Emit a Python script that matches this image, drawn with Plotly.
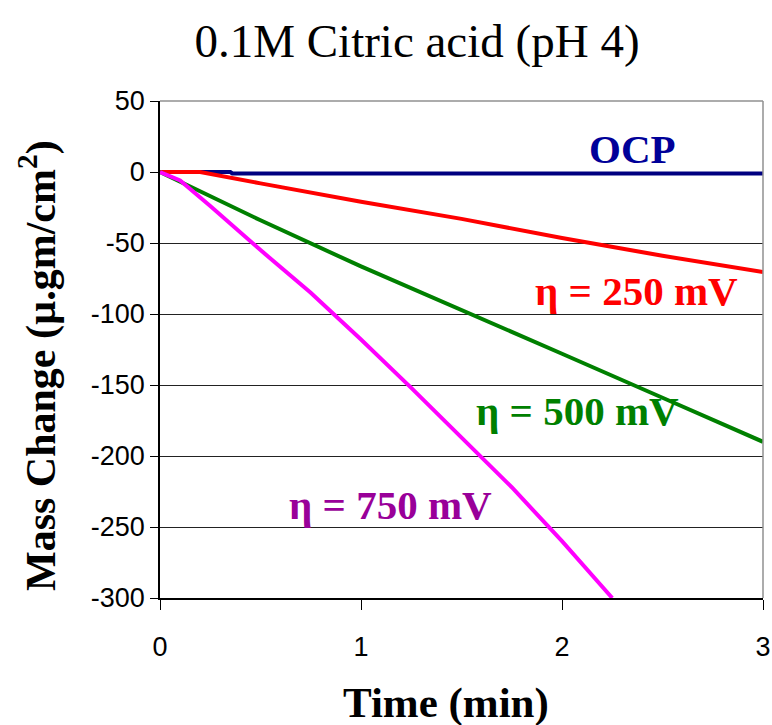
import plotly.graph_objects as go

# Data
t_ocp = [0, 0.35, 0.36, 1.0, 2.0, 3.0]
m_ocp = [0, 0, -1, -1, -1, -1]

t_250 = [0, 0.2, 0.5, 1.0, 1.5, 2.0, 2.5, 3.0]
m_250 = [0, 0, -8, -21, -33, -46.5, -59, -70.5]

t_500 = [0, 0.25, 0.5, 1.0, 1.5, 2.0, 2.5, 3.0]
m_500 = [0, -17, -34, -66.5, -97, -128, -159, -190]

t_750 = [0, 0.1, 0.25, 0.5, 0.75, 1.0, 1.25, 1.5, 1.75, 2.0, 2.25]
m_750 = [0, -6, -24, -55, -85, -118, -152, -187, -222, -260, -300]

labels = ["OCP", "η = 250 mV", "η = 500 mV", "η = 750 mV"]
label_x = [2.353, 2.373, 2.077, 1.149]
label_y = [16, -83.8, -168.3, -234.5]
label_colors = ["#000099", "#FF0000", "#008000", "#990099"]

x_ticks = [0, 1, 2, 3]
y_ticks = [50, 0, -50, -100, -150, -200, -250, -300]

serif = "Liberation Serif, Times New Roman, serif"
sans = "Liberation Sans, Arial, sans-serif"

fig = go.Figure()
fig.add_trace(go.Scatter(x=t_ocp, y=m_ocp, mode="lines", line=dict(color="#000080", width=4)))
fig.add_trace(go.Scatter(x=t_250, y=m_250, mode="lines", line=dict(color="#FF0000", width=4)))
fig.add_trace(go.Scatter(x=t_500, y=m_500, mode="lines", line=dict(color="#008000", width=4)))
fig.add_trace(go.Scatter(x=t_750, y=m_750, mode="lines", line=dict(color="#FF00FF", width=4)))

for txt, x, y, c in zip(labels, label_x, label_y, label_colors):
    fig.add_annotation(x=x, y=y, xref="x", yref="y", text="<b>%s</b>" % txt,
                       showarrow=False, xanchor="center", yanchor="middle",
                       font=dict(family=serif, size=41, color=c))

# axis titles
fig.add_annotation(x=0.4735, y=-0.211, xref="paper", yref="paper",
                   text="<b>Time (min)</b>", showarrow=False,
                   xanchor="center", yanchor="middle",
                   font=dict(family=serif, size=43, color="black"))
fig.add_annotation(x=-0.2023, y=0.4668, xref="paper", yref="paper",
                   text="<b>Mass Change (µ.gm/cm<sup>2</sup>)</b>", showarrow=False,
                   textangle=-90, xanchor="center", yanchor="middle",
                   font=dict(family=serif, size=42, color="black"))

# gray top/right border
fig.add_shape(type="line", xref="paper", yref="paper", x0=1, x1=1, y0=0, y1=1,
              line=dict(color="#909090", width=1.5))
fig.add_shape(type="line", xref="paper", yref="paper", x0=0, x1=1, y0=1, y1=1,
              line=dict(color="#909090", width=1.5))

fig.update_layout(
    width=772, height=725,
    margin=dict(l=160, r=9, t=101, b=127, autoexpand=False),
    plot_bgcolor="white", paper_bgcolor="white",
    showlegend=False,
    title=dict(text="0.1M Citric acid (pH 4)", x=(417 - 160) / 603, xref="paper",
               xanchor="center", y=1 - 41 / 725, yref="container", yanchor="middle",
               font=dict(family=serif, size=47, color="black")),
    xaxis=dict(range=[0, 3], tickvals=x_ticks, ticktext=[str(v) for v in x_ticks],
               showgrid=False, zeroline=False, showline=True, linecolor="black",
               linewidth=1.5, ticks="outside", ticklen=10, tickcolor="black",
               tickfont=dict(family=sans, size=27, color="black"),
               ticklabelstandoff=14, automargin=False),
    yaxis=dict(range=[-300, 50], tickvals=y_ticks, ticktext=[str(v) for v in y_ticks],
               showgrid=True, gridcolor="#222222", gridwidth=1, zeroline=False,
               showline=True, linecolor="black", linewidth=1.5, ticks="outside",
               ticklen=8, tickcolor="black",
               tickfont=dict(family=sans, size=27, color="black"), automargin=False),
)

fig.write_html("out.html")
